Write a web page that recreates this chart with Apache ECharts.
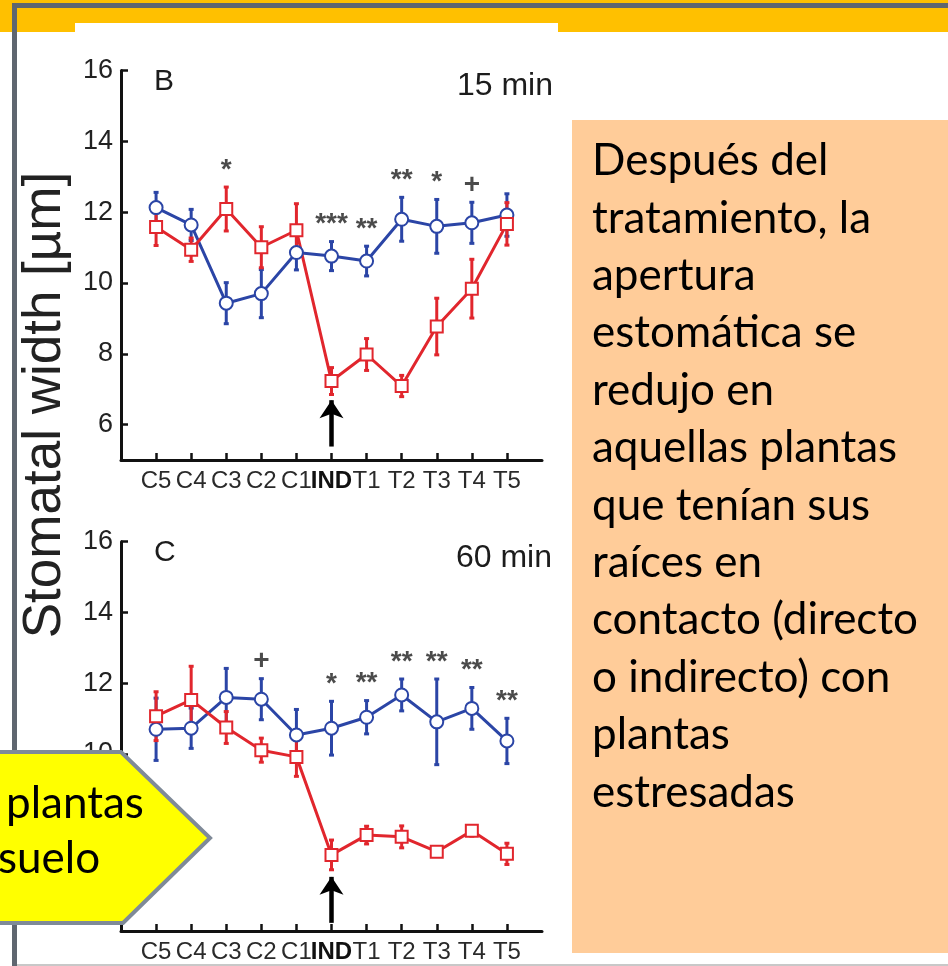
<!DOCTYPE html>
<html>
<head>
<meta charset="utf-8">
<script src="https://cdn.jsdelivr.net/npm/echarts@6/dist/echarts.min.js"></script>
<style>
  html, body { margin: 0; padding: 0; background: #fff; }
  #chart { width: 948px; height: 966px; }
</style>
</head>
<body>
<div id="chart"></div>
<script>
// Sampling points along the x axis
const categories = ['C5', 'C4', 'C3', 'C2', 'C1', 'IND', 'T1', 'T2', 'T3', 'T4', 'T5'];
const yTicks = [6, 8, 10, 12, 14, 16];

// Panel B, 15 min: stomatal width (µm) and error
const blue15 = [12.13, 11.64, 9.43, 9.70, 10.86, 10.76, 10.62, 11.80, 11.60, 11.70, 11.92];
const blue15Err = [0.43, 0.44, 0.58, 0.68, 0.49, 0.41, 0.42, 0.62, 0.76, 0.58, 0.60];
const red15 = [11.58, 10.94, 12.09, 11.01, 11.49, 7.23, 7.98, 7.09, 8.77, 9.84, 11.67];
const red15Err = [0.52, 0.33, 0.62, 0.58, 0.75, 0.38, 0.45, 0.30, 0.80, 0.83, 0.60];
const sig15 = ['', '', '*', '', '', '***', '**', '**', '*', '+', ''];
const arrow15 = [5.38, 6.69];

// Panel C, 60 min
const blue60 = [10.70, 10.73, 11.60, 11.55, 10.54, 10.73, 11.04, 11.67, 10.91, 11.29, 10.37];
const blue60Err = [0.88, 0.57, 0.82, 0.58, 0.72, 0.76, 0.47, 0.45, 1.21, 0.59, 0.64];
const red60 = [11.07, 11.53, 10.75, 10.11, 9.92, 7.15, 7.71, 7.66, 7.24, 7.83, 7.18];
const red60Err = [0.69, 0.95, 0.45, 0.34, 0.55, 0.42, 0.25, 0.31, 0.10, 0.15, 0.30];
const sig60 = ['', '', '', '+', '', '*', '**', '**', '**', '**', '**'];
const arrow60 = [5.23, 6.53];

// Side note and callout text
const noteLines = ['Después del', 'tratamiento, la', 'apertura', 'estomática se', 'redujo en',
  'aquellas plantas', 'que tenían sus', 'raíces en', 'contacto (directo', 'o indirecto) con',
  'plantas', 'estresadas'];
const calloutLines = ['plantas', 'suelo'];

const BLUE = '#2b45a6';
const RED = '#e1262d';
const INK = '#1c1c1c';
const ARIAL = 'Liberation Sans, Arial, sans-serif';
const NOTE_FONT = 'Lato, Carlito, Calibri, sans-serif';
const xPos = categories.map((c, i) => i + 1);

function xAxisCfg(gridIndex) {
  return {
    type: 'value', gridIndex, min: 0, max: categories.length + 1,
    axisLine: { show: true, onZero: false, lineStyle: { color: '#111', width: 3 } },
    axisTick: { show: true, inside: true, length: 7, customValues: xPos,
      lineStyle: { color: '#111', width: 2.5 } },
    axisLabel: {
      customValues: xPos, margin: 9, fontSize: 24, fontFamily: ARIAL, color: '#2a2a2a',
      formatter: v => {
        const c = categories[Math.round(v) - 1] || '';
        return c === 'IND' ? '{b|' + c + '}' : c;
      },
      rich: { b: { fontSize: 24, fontFamily: ARIAL, fontWeight: 'bold', color: '#111' } }
    },
    splitLine: { show: false }
  };
}

function yAxisCfg(gridIndex) {
  return {
    type: 'value', gridIndex, min: 5, max: 16,
    axisLine: { show: true, lineStyle: { color: '#111', width: 3 } },
    axisTick: { show: true, inside: true, length: 7, customValues: yTicks,
      lineStyle: { color: '#111', width: 2.5 } },
    axisLabel: { customValues: yTicks, margin: 8, fontSize: 27, fontFamily: ARIAL, color: '#222' },
    splitLine: { show: false }
  };
}

function lineSeries(values, color, symbol, size, axis, arrow) {
  const s = {
    type: 'line', xAxisIndex: axis, yAxisIndex: axis,
    data: values.map((v, i) => [i + 1, v]),
    symbol, symbolSize: size, showAllSymbol: true,
    lineStyle: { color, width: 3 },
    itemStyle: { color, borderColor: color, borderWidth: 2.6 },
    z: 3
  };
  if (arrow) {
    const ix = categories.indexOf('IND') + 1;
    s.markLine = {
      silent: true, animation: false,
      symbol: ['none', 'arrow'], symbolSize: [18, 18],
      label: { show: false },
      lineStyle: { color: '#000', width: 4.5, type: 'solid' },
      emphasis: { disabled: true },
      data: [[{ coord: [ix, arrow[0]] }, { coord: [ix, arrow[1]] }]]
    };
  }
  return s;
}

function errorSeries(values, errs, color, axis) {
  return {
    type: 'custom', xAxisIndex: axis, yAxisIndex: axis,
    data: values.map((v, i) => [i + 1, v - errs[i], v + errs[i]]),
    renderItem(params, api) {
      const x = api.value(0);
      const lo = api.coord([x, api.value(1)]);
      const hi = api.coord([x, api.value(2)]);
      const cap = 2.5;
      const st = { stroke: color, lineWidth: 3 };
      return {
        type: 'group', children: [
          { type: 'line', shape: { x1: lo[0], y1: lo[1], x2: hi[0], y2: hi[1] }, style: st },
          { type: 'line', shape: { x1: lo[0] - cap, y1: lo[1], x2: lo[0] + cap, y2: lo[1] }, style: st },
          { type: 'line', shape: { x1: hi[0] - cap, y1: hi[1], x2: hi[0] + cap, y2: hi[1] }, style: st }
        ]
      };
    },
    z: 3
  };
}

function sigSeries(sig, bVals, bErr, rVals, rErr, axis) {
  const data = [];
  sig.forEach((t, i) => {
    if (!t) return;
    const top = Math.max(bVals[i] + bErr[i], rVals[i] + rErr[i]);
    data.push({ value: [i + 1, top], name: t });
  });
  return {
    type: 'scatter', xAxisIndex: axis, yAxisIndex: axis, data,
    symbolSize: 0, silent: true,
    label: {
      show: true, position: 'top', distance: 3,
      formatter: p => p.name,
      fontSize: 28, fontWeight: 'bold', fontFamily: ARIAL, color: '#1e1e1e'
    },
    z: 4
  };
}

// Right-hand note box and its lines
const noteText = noteLines.map((t, i) => ({
  type: 'text', left: 592, top: 175 + i * 57.4 - 36,
  style: { text: t, font: '44px ' + NOTE_FONT, fill: '#000' }, z: 20
}));

const calloutText = calloutLines.map((t, i) => ({
  type: 'text', left: i === 0 ? 6 : -2, top: 818 + i * 55 - 36,
  style: { text: t, font: '44px ' + NOTE_FONT, fill: '#000' }, z: 101
}));

const chart = echarts.init(document.getElementById('chart'), null, { renderer: 'canvas' });
chart.setOption({
  animation: false,
  backgroundColor: '#ffffff',
  grid: [
    { left: 121, top: 70.6, width: 421, height: 389.4, outerBoundsMode: 'none' },
    { left: 121, top: 541.7, width: 421, height: 389.3, outerBoundsMode: 'none' }
  ],
  xAxis: [xAxisCfg(0), xAxisCfg(1)],
  yAxis: [yAxisCfg(0), yAxisCfg(1)],
  series: [
    errorSeries(blue15, blue15Err, BLUE, 0),
    lineSeries(blue15, BLUE, 'emptyCircle', 13, 0, arrow15),
    errorSeries(red15, red15Err, RED, 0),
    lineSeries(red15, RED, 'emptyRect', 12, 0, null),
    sigSeries(sig15, blue15, blue15Err, red15, red15Err, 0),
    errorSeries(blue60, blue60Err, BLUE, 1),
    lineSeries(blue60, BLUE, 'emptyCircle', 13, 1, arrow60),
    errorSeries(red60, red60Err, RED, 1),
    lineSeries(red60, RED, 'emptyRect', 12, 1, null),
    sigSeries(sig60, blue60, blue60Err, red60, red60Err, 1)
  ],
  graphic: [
    // slide header band and frame
    { type: 'rect', shape: { x: 0, y: 0, width: 948, height: 32 }, style: { fill: '#FFC000' }, z: -5, silent: true },
    { type: 'rect', shape: { x: 75, y: 23, width: 483, height: 10 }, style: { fill: '#ffffff' }, z: -4, silent: true },
    { type: 'rect', shape: { x: 12, y: 3, width: 936, height: 5 }, style: { fill: '#5f6670' }, z: -3, silent: true },
    { type: 'rect', shape: { x: 12, y: 3, width: 5, height: 963 }, style: { fill: '#5f6670' }, z: -3, silent: true },
    { type: 'rect', shape: { x: 17, y: 964, width: 931, height: 2 }, style: { fill: '#c8c8c8' }, z: -3, silent: true },
    // panel titles
    { type: 'text', x: 154, y: 82, style: { text: 'B', font: '30px ' + ARIAL, fill: INK, verticalAlign: 'middle' }, z: 10 },
    { type: 'text', x: 553, y: 86, style: { text: '15 min', font: '32px ' + ARIAL, fill: INK, align: 'right', verticalAlign: 'middle' }, z: 10 },
    { type: 'text', x: 154, y: 553, style: { text: 'C', font: '30px ' + ARIAL, fill: INK, verticalAlign: 'middle' }, z: 10 },
    { type: 'text', x: 552, y: 558, style: { text: '60 min', font: '32px ' + ARIAL, fill: INK, align: 'right', verticalAlign: 'middle' }, z: 10 },
    // shared y axis title
    { type: 'text', x: 45, y: 405, rotation: Math.PI / 2,
      style: { text: 'Stomatal width [µm]', font: '53px ' + ARIAL, fill: '#222', align: 'center', verticalAlign: 'middle' }, z: 10 },
    // note box
    { type: 'rect', shape: { x: 572, y: 120, width: 376, height: 833 }, style: { fill: '#FFCC99' }, z: 15, silent: true },
    ...noteText,
    // callout arrow shape
    { type: 'polygon', shape: { points: [[-10, 752], [121, 752], [210, 838], [123, 923], [-10, 923]] },
      style: { fill: '#FFFF00', stroke: '#7f8a98', lineWidth: 4 }, z: 100, silent: true },
    ...calloutText
  ]
});
</script>
</body>
</html>
